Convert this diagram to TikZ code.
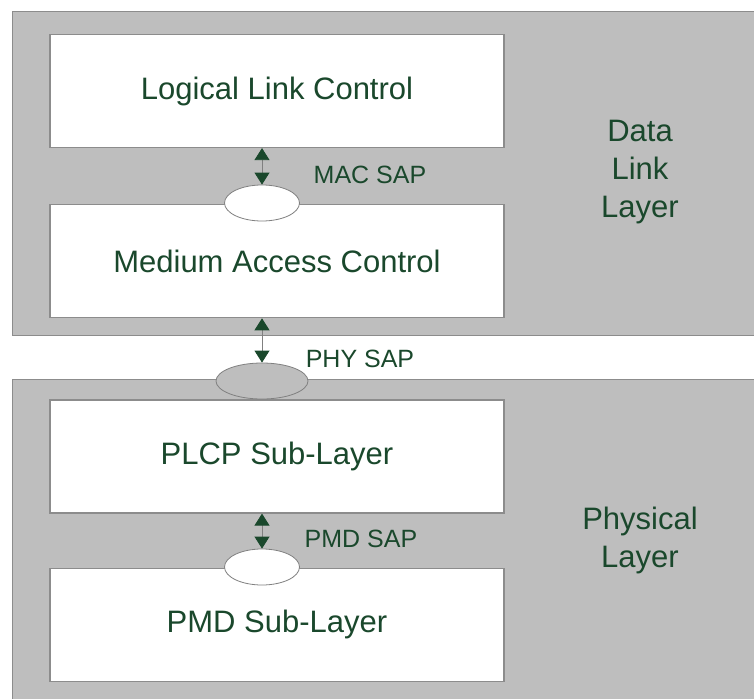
\documentclass[tikz,border=0pt]{standalone}
\usepackage{fontspec}
\setmainfont{Liberation Sans}
\usepackage{tikz}
\usetikzlibrary{arrows.meta,shapes,positioning,calc}
\definecolor{layergray}{RGB}{190,190,190}
\definecolor{edgegray}{RGB}{140,140,140}
\definecolor{sapgreen}{RGB}{26,72,44}

\begin{document}
\begin{tikzpicture}[
    x=1pt, y=-1pt,
    panel/.style={rectangle, draw=edgegray, fill=layergray, line width=1pt, anchor=north west, inner sep=0pt},
    sublayer/.style={rectangle, draw=edgegray, fill=white, line width=1.2pt, minimum width=454pt, minimum height=113pt, align=center, text=sapgreen, font=\fontsize{31}{37}\selectfont},
    sap/.style={ellipse, draw=gray, line width=0.8pt, minimum width=75pt, minimum height=36pt, inner sep=0pt},
    saplabel/.style={text=sapgreen, font=\fontsize{25}{30}\selectfont},
    layerlabel/.style={text=sapgreen, align=center, font=\fontsize{31}{38}\selectfont},
    sapline/.style={draw=gray, line width=0.8pt, {Triangle[length=12pt,width=15pt,color=sapgreen]}-{Triangle[length=12pt,width=15pt,color=sapgreen]}}
]
    \useasboundingbox (0,0) rectangle (754,698);
    \node[panel, minimum width=750pt, minimum height=324pt] (dllpanel) at (12,11) {};
    \node[panel, minimum width=750pt, minimum height=330pt] (phypanel) at (12,379) {};

    \node[sublayer] (llc) at (277,91) {Logical Link Control};
    \node[sublayer, below=56pt of llc] (mac) {Medium Access Control};
    \node[sublayer] (plcp) at (277,456.5) {PLCP Sub-Layer};
    \node[sublayer, below=54pt of plcp] (pmd) {PMD Sub-Layer};

    \node[sap, fill=white] (macsap) at (262,203) {};
    \node[sap, fill=layergray, minimum width=92pt] (physap) at (262,381) {};
    \node[sap, fill=white] (pmdsap) at (262,567) {};

    \draw[sapline] (llc.south -| macsap) -- (macsap.north);
    \draw[sapline] (mac.south -| physap) -- (physap.north);
    \draw[sapline] (plcp.south -| pmdsap) -- (pmdsap.north);

    \node[saplabel] (macsaplbl) at (370,175) {MAC SAP};
    \node[saplabel] (physaplbl) at (360,359) {PHY SAP};
    \node[saplabel] (pmdsaplbl) at (361,539) {PMD SAP};

    \node[layerlabel] (dlllbl) at (640,172) {Data\\Link\\Layer};
    \node[layerlabel] (phylbl) at (640,540) {Physical\\Layer};
\end{tikzpicture}
\end{document}
